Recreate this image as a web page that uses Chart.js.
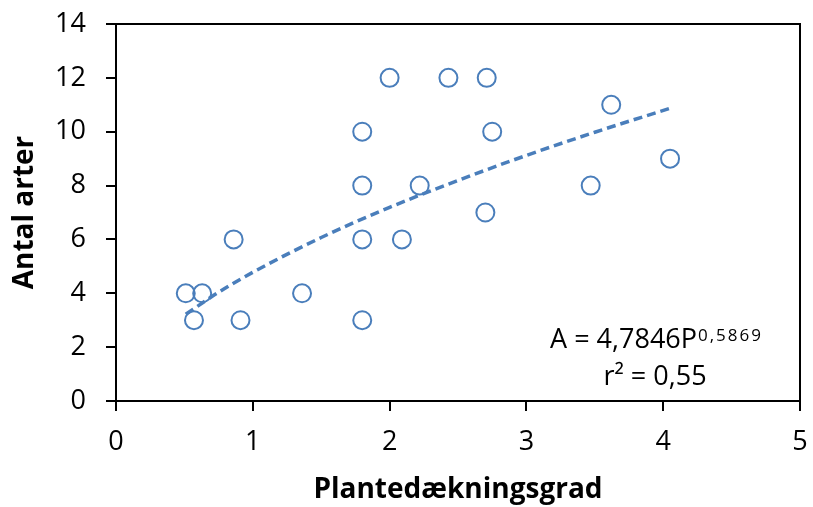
<!DOCTYPE html>
<html>
<head>
<meta charset="utf-8">
<script src="https://cdn.jsdelivr.net/npm/chart.js@4"></script>
<style>
    body { margin: 0; background: #fff; }
    .my-chart { width: 813px; height: 507px; }
</style>
</head>
<body>
<div class="my-chart"><canvas id="cover-chart"></canvas></div>
<script>
// plant cover (x) vs species count (y)
const coverValues = [0.51, 0.57, 0.63, 0.86, 0.91, 1.36, 1.80, 1.80, 1.80, 1.80, 2.00, 2.09, 2.22, 2.43, 2.71, 2.75, 2.70, 3.47, 3.62, 4.05];
const speciesValues = [4, 3, 4, 6, 3, 4, 10, 8, 6, 3, 12, 6, 8, 12, 12, 10, 7, 8, 11, 9];

// power trendline
const trendX = [0.51, 0.75, 1.0, 1.5, 2.0, 2.5, 3.0, 3.5, 4.05];
const trendY = [3.22, 4.04, 4.78, 6.07, 7.19, 8.19, 9.12, 9.98, 10.87];

const xTicks = [0, 1, 2, 3, 4, 5];
const yTicks = [0, 2, 4, 6, 8, 10, 12, 14];

const blue = '#4a7ebb';
const fontFamily = '"Open Sans", Lato, sans-serif';

const framePlugin = {
    id: 'frame',
    afterDraw(chart) {
        const { ctx, chartArea } = chart;
        ctx.save();
        ctx.strokeStyle = '#000';
        ctx.lineWidth = 2;
        ctx.beginPath();
        ctx.moveTo(chartArea.left, chartArea.top);
        ctx.lineTo(chartArea.right, chartArea.top);
        ctx.lineTo(chartArea.right, chartArea.bottom);
        ctx.stroke();

        // fit label
        const right = chartArea.right - 38;
        ctx.fillStyle = '#000';
        ctx.textBaseline = 'alphabetic';
        ctx.font = '27px ' + fontFamily;
        const main = 'A = 4,7846P';
        const mainW = ctx.measureText(main).width;
        ctx.font = '17px ' + fontFamily;
        ctx.letterSpacing = '2px';
        const sup = '0,5869';
        const supW = ctx.measureText(sup).width;
        ctx.letterSpacing = '0px';
        const start = right - mainW - supW;
        const base1 = chartArea.bottom - 53;
        ctx.font = '27px ' + fontFamily;
        ctx.textAlign = 'left';
        ctx.fillText(main, start, base1);
        ctx.font = '17px ' + fontFamily;
        ctx.letterSpacing = '2px';
        ctx.fillText(sup, start + mainW + 1, base1 - 7);
        ctx.letterSpacing = '0px';
        ctx.font = '27px ' + fontFamily;
        ctx.textAlign = 'center';
        ctx.fillText('r² = 0,55', right - 107, chartArea.bottom - 16);
        ctx.restore();
    }
};

function scatterChart() {
    const target = document.getElementById('cover-chart');

    new Chart(
        target,
        {
            type: 'scatter',
            plugins: [framePlugin],
            options: {
                responsive: true,
                maintainAspectRatio: false,
                animation: false,
                layout: {
                    padding: { top: 24, right: 13, left: 0, bottom: 0 }
                },
                scales: {
                    x: {
                        type: 'linear',
                        min: 0,
                        max: 5,
                        afterFit: (scale) => {
                            scale.height = 106;
                            scale.paddingLeft = 0;
                            scale.paddingRight = 0;
                        },
                        afterBuildTicks: (scale) => { scale.ticks = xTicks.map(v => ({ value: v })); },
                        ticks: {
                            color: '#000',
                            padding: 15,
                            font: { family: fontFamily, size: 27 },
                        },
                        grid: {
                            drawOnChartArea: false,
                            color: '#000',
                            lineWidth: 2,
                            tickLength: 10,
                        },
                        border: { color: '#000', width: 2 },
                        title: {
                            display: true,
                            text: 'Plantedækningsgrad',
                            color: '#000',
                            padding: { top: 0, bottom: 0 },
                            font: { family: fontFamily, size: 28, weight: 'bold' },
                        }
                    },
                    y: {
                        type: 'linear',
                        min: 0,
                        max: 14,
                        afterFit: (scale) => {
                            scale.width = 116;
                            scale.paddingTop = 0;
                            scale.paddingBottom = 0;
                        },
                        afterBuildTicks: (scale) => { scale.ticks = yTicks.map(v => ({ value: v })); },
                        ticks: {
                            color: '#000',
                            padding: 20,
                            font: { family: fontFamily, size: 27 },
                        },
                        grid: {
                            drawOnChartArea: false,
                            color: '#000',
                            lineWidth: 2,
                            tickLength: 10,
                        },
                        border: { color: '#000', width: 2 },
                        title: {
                            display: true,
                            text: 'Antal arter',
                            color: '#000',
                            padding: { top: 8, bottom: 0 },
                            font: { family: fontFamily, size: 28, weight: 'bold' },
                        }
                    },
                },
                plugins: {
                    legend: { display: false },
                    tooltip: { enabled: false },
                }
            },
            data: {
                datasets: [
                    {
                        label: 'Antal arter',
                        data: coverValues.map((x, i) => ({ x: x, y: speciesValues[i] })),
                        pointRadius: 9,
                        pointBorderWidth: 2,
                        pointBackgroundColor: 'rgba(0,0,0,0)',
                        pointBorderColor: blue,
                        borderColor: blue,
                    },
                    {
                        type: 'line',
                        label: 'Trend',
                        data: trendX.map((x, i) => ({ x: x, y: trendY[i] })),
                        borderColor: blue,
                        borderWidth: 3.5,
                        borderDash: [9, 5],
                        pointRadius: 0,
                        cubicInterpolationMode: 'monotone',
                        fill: false,
                    }
                ]
            }
        }
    );
}

scatterChart();
</script>
</body>
</html>
